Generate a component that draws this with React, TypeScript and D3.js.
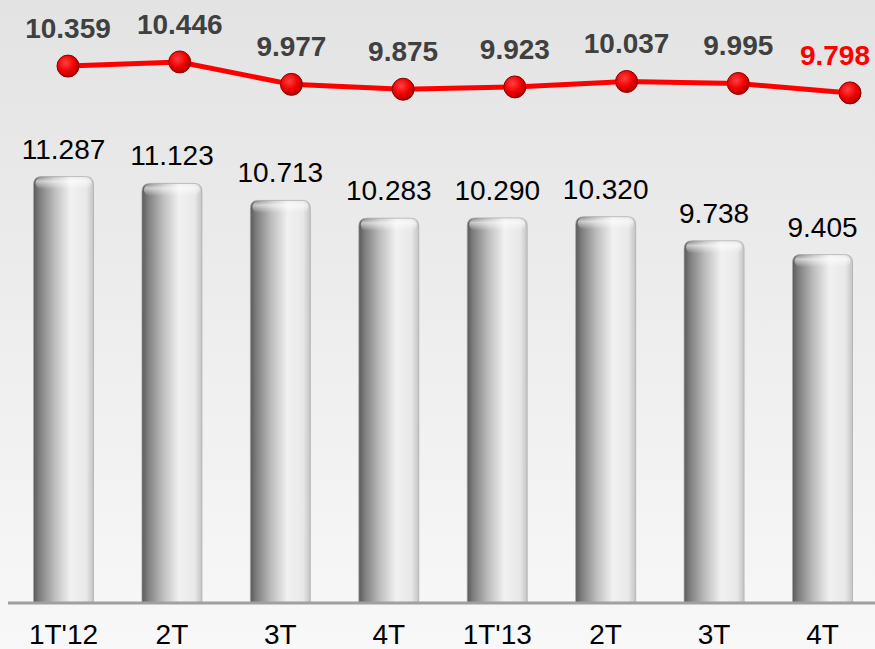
import React from 'react';
import * as d3 from 'd3';

const categories = ["1T'12", '2T', '3T', '4T', "1T'13", '2T', '3T', '4T'];
const barValues = [11.287, 11.123, 10.713, 10.283, 10.29, 10.32, 9.738, 9.405];
const lineValues = [10.359, 10.446, 9.977, 9.875, 9.923, 10.037, 9.995, 9.798];

const W = 875;
const H = 649;
const baseY = 603;
const barW = 60;

const fmt = (v: number) => v.toFixed(3);

const App = () => {
  const keys = categories.map((c, i) => i + ':' + c);
  // bars and line markers sit on slightly different horizontal grids
  const x = d3.scalePoint<string>().domain(keys).range([63.5, 822.5]);
  const xLine = d3.scalePoint<string>().domain(keys).range([68, 850]);
  const yBar = d3.scaleLinear().domain([1, 12]).range([baseY, baseY - 11 * 41.45]);
  const yLine = d3.scaleLinear().domain([9, 11]).range([131, 35.5]);

  const line = d3
    .line<number>()
    .x((_, i) => xLine(keys[i]) as number)
    .y((d) => yLine(d));

  const barPath = (cx: number, top: number) => {
    const r = 8;
    const l = cx - barW / 2;
    const rr = cx + barW / 2;
    const p = d3.path();
    p.moveTo(l, baseY);
    p.lineTo(l, top + r);
    p.quadraticCurveTo(l, top, l + r, top);
    p.lineTo(rr - r, top);
    p.quadraticCurveTo(rr, top, rr, top + r);
    p.lineTo(rr, baseY);
    p.closePath();
    return p.toString();
  };

  return (
    <svg
      width={W}
      height={H}
      style={{ position: 'absolute', left: 0, top: 0, display: 'block' }}
      fontFamily="'Liberation Sans', Arial, sans-serif"
    >
      <defs>
        <linearGradient id="bg" x1="0" y1="0" x2="0" y2="1">
          <stop offset="0" stopColor="#e3e3e3" />
          <stop offset="1" stopColor="#f8f8f8" />
        </linearGradient>
        <linearGradient id="cyl" x1="0" y1="0" x2="1" y2="0">
          <stop offset="0" stopColor="#5a5a5a" />
          <stop offset="0.1" stopColor="#7e7e7e" />
          <stop offset="0.35" stopColor="#bdbdbd" />
          <stop offset="0.62" stopColor="#f1f1f1" />
          <stop offset="0.88" stopColor="#e8e8e8" />
          <stop offset="1" stopColor="#c4c4c4" />
        </linearGradient>
        <linearGradient id="cap" x1="0" y1="0" x2="0" y2="1">
          <stop offset="0" stopColor="#ffffff" stopOpacity="0.15" />
          <stop offset="0.35" stopColor="#ffffff" stopOpacity="0.6" />
          <stop offset="1" stopColor="#ffffff" stopOpacity="0" />
        </linearGradient>
        <radialGradient id="dot" cx="0.4" cy="0.35" r="0.65">
          <stop offset="0" stopColor="#ff4040" />
          <stop offset="0.6" stopColor="#f00000" />
          <stop offset="1" stopColor="#b00000" />
        </radialGradient>
      </defs>

      <rect x={0} y={0} width={W} height={H} fill="url(#bg)" />

      {barValues.map((v, i) => {
        const cx = x(keys[i]) as number;
        const top = yBar(v);
        return (
          <g key={'b' + i}>
            <path d={barPath(cx, top)} fill="url(#cyl)" stroke="#a8a8a8" strokeWidth={0.7} />
            <rect
              x={cx - barW / 2 + 2}
              y={top + 0.5}
              width={barW - 4}
              height={12}
              rx={6}
              fill="url(#cap)"
            />
            <text x={cx} y={top - 18} textAnchor="middle" fontSize={28} fill="#000">
              {fmt(v)}
            </text>
          </g>
        );
      })}

      <line x1={8} x2={W} y1={baseY} y2={baseY} stroke="#a0a0a0" strokeWidth={3} />

      {categories.map((c, i) => (
        <text
          key={'c' + i}
          x={x(keys[i]) as number}
          y={644}
          textAnchor="middle"
          fontSize={28}
          fill="#000"
        >
          {c}
        </text>
      ))}

      <path d={line(lineValues) as string} fill="none" stroke="#ff0000" strokeWidth={5} />

      {lineValues.map((v, i) => {
        const cx = xLine(keys[i]) as number;
        const cy = yLine(v);
        const last = i === lineValues.length - 1;
        return (
          <g key={'p' + i}>
            <circle cx={cx} cy={cy} r={11} fill="url(#dot)" stroke="#8a0000" strokeWidth={1} />
            <text
              x={last ? W - 5 : cx}
              y={cy - 28}
              textAnchor={last ? 'end' : 'middle'}
              fontSize={28}
              fontWeight="bold"
              fill={last ? '#ff0000' : '#404040'}
            >
              {fmt(v)}
            </text>
          </g>
        );
      })}
    </svg>
  );
};

export default App;
